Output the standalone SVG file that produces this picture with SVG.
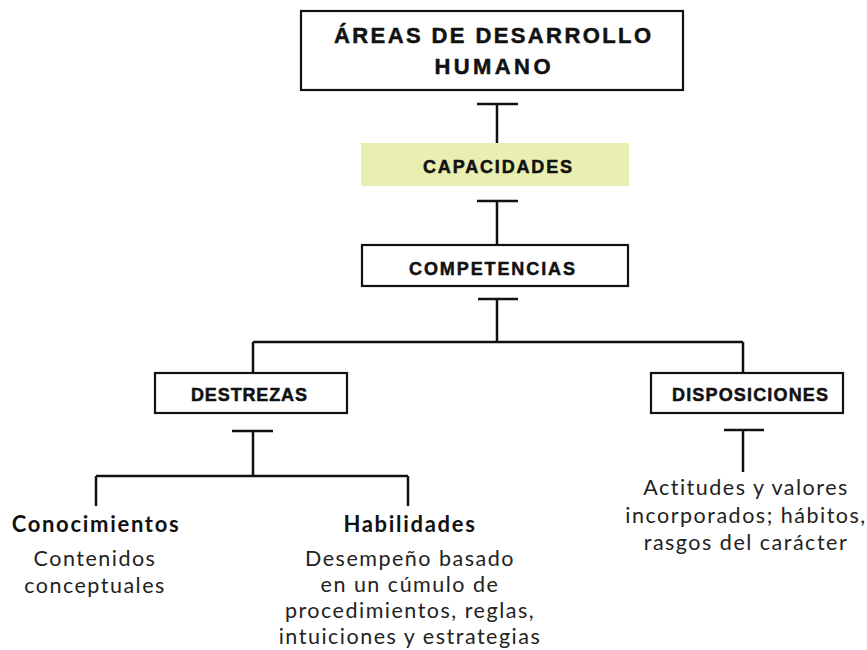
<svg xmlns="http://www.w3.org/2000/svg" width="867" height="650" viewBox="0 0 867 650">
<style>
.box{fill:#fff;stroke:#111;stroke-width:2.2}
.hl{fill:#e8efb1}
.h{font-family:"Liberation Sans",Arial,sans-serif;font-weight:bold;fill:#111;stroke:#111;stroke-width:0.5;text-anchor:middle}
.t1{font-size:22px}
.t2{font-size:18px}
.sub{font-family:Lato,"Open Sans",sans-serif;font-weight:bold;font-size:22px;letter-spacing:1.7px;fill:#111;text-anchor:middle}
.b{font-family:Lato,"Open Sans",sans-serif;font-size:21.5px;letter-spacing:1.5px;fill:#222;text-anchor:middle}
.c{fill:none;stroke:#111;stroke-width:2.5}
</style>
<rect width="867" height="650" fill="#fff"/>
<g id="connectors">
<path class="c" d="M477 104H518M497 104V143"/>
<path class="c" d="M477 201H518M497 201V245"/>
<path class="c" d="M478 299H518M497 299V342M253 342H743M253 342V373M743 342V373"/>
<path class="c" d="M232 431H273M253 431V476M96 476H408M96 476V506M408 476V506"/>
<path class="c" d="M724 430H764M743 430V472"/>
</g>
<g id="areas">
<rect class="box" x="301" y="11" width="382" height="79"/>
<text class="h t1" x="492.5" y="43" textLength="317" lengthAdjust="spacing">ÁREAS DE DESARROLLO</text>
<text class="h t1" x="492.5" y="74" textLength="116" lengthAdjust="spacing">HUMANO</text>
</g>
<g id="capacidades">
<rect class="hl" x="361" y="143" width="268" height="43"/>
<text class="h t2" x="497.5" y="173" textLength="149" lengthAdjust="spacing">CAPACIDADES</text>
</g>
<g id="competencias">
<rect class="box" x="362" y="245" width="266" height="41"/>
<text class="h t2" x="492" y="275" textLength="166" lengthAdjust="spacing">COMPETENCIAS</text>
</g>
<g id="destrezas">
<rect class="box" x="155" y="373" width="192" height="40"/>
<text class="h t2" x="249" y="401" textLength="116" lengthAdjust="spacing">DESTREZAS</text>
</g>
<g id="disposiciones">
<rect class="box" x="651" y="373" width="192" height="40"/>
<text class="h t2" x="750" y="401" textLength="156" lengthAdjust="spacing">DISPOSICIONES</text>
</g>
<g id="conocimientos">
<text class="sub" x="96" y="532">Conocimientos</text>
<text class="b" x="95" y="566">Contenidos</text>
<text class="b" x="95" y="593">conceptuales</text>
</g>
<g id="habilidades">
<text class="sub" x="410" y="532">Habilidades</text>
<text class="b" x="410" y="566">Desempeño basado</text>
<text class="b" x="410" y="592">en un cúmulo de</text>
<text class="b" x="410" y="618">procedimientos, reglas,</text>
<text class="b" x="410" y="644">intuiciones y estrategias</text>
</g>
<g id="actitudes">
<text class="b" x="746" y="495">Actitudes y valores</text>
<text class="b" x="746" y="523">incorporados; hábitos,</text>
<text class="b" x="746" y="550">rasgos del carácter</text>
</g>
</svg>
